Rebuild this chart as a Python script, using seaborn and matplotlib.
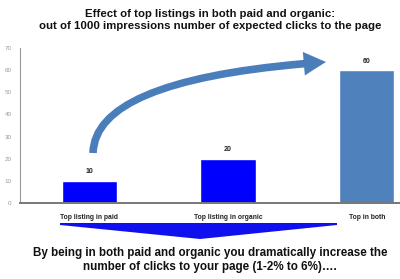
import matplotlib
matplotlib.use("Agg")
import matplotlib.pyplot as plt
import seaborn as sns
import numpy as np
from matplotlib.patches import FancyArrowPatch, Polygon
from matplotlib.path import Path

categories = ["Top listing in paid", "Top listing in organic", "Top in both"]
values = [10, 20, 60]
bar_colors = ["#0000ff", "#0000ff", "#4f81bd"]
yticks = [0, 10, 20, 30, 40, 50, 60, 70]
title_lines = ["Effect of top listings in both paid and organic:",
               "out of 1000 impressions number of expected clicks to the page"]
footer_lines = ["By being in both paid and organic you dramatically increase the",
                "number of clicks to your page (1-2% to 6%)\u2026."]

sns.set_theme(style="white")
plt.rcParams['font.family'] = ['Liberation Sans', 'DejaVu Sans']

W, H = 400, 279
fig = plt.figure(figsize=(4.0, 2.79), dpi=100)
ax = fig.add_axes([0.05, 0.272, 0.95, 0.556])

sns.barplot(x=categories, y=values, hue=categories, palette=bar_colors,
            legend=False, width=0.4, ax=ax, saturation=1)
ax.set_xlim(-0.5, 2.24)
ax.set_ylim(0, 70)
ax.set_yticks(yticks)
ax.set_yticklabels([str(t) for t in yticks], fontsize=4.5, color="#999999")
ax.set_xticks(range(len(categories)))
ax.set_xticklabels(categories, fontsize=4.9, fontweight="bold", color="#222222")
ax.tick_params(axis="both", length=0, pad=8)
ax.tick_params(axis="y", pad=6)
ax.set_xlabel("")
ax.set_ylabel("")
for s in ["top", "right"]:
    ax.spines[s].set_visible(False)
ax.spines["left"].set_color("#999999")
ax.spines["left"].set_linewidth(0.8)
ax.spines["bottom"].set_color("#777777")
ax.spines["bottom"].set_linewidth(1.4)

for i, v in enumerate(values):
    ax.text(i, v + 2.5, str(v), ha="center", va="bottom", fontsize=5,
            fontweight="bold", color="#222222")

# curved arrow (quadratic bezier in figure fraction)
def fp(x, y):
    return (x / W, 1 - y / H)

arrow_path = Path([fp(93, 153), fp(95, 78), fp(326, 62)],
                  [Path.MOVETO, Path.CURVE3, Path.CURVE3])
arrow = FancyArrowPatch(path=arrow_path, transform=fig.transFigure,
                        arrowstyle="simple,head_width=1.7,head_length=1.6,tail_width=0.55",
                        color="#4a7ebb", lw=0, mutation_scale=10)
fig.patches.append(arrow)

# downward triangle banner
pts = [fp(60, 223), fp(337, 223), fp(337, 225), fp(200, 239), fp(60, 225)]
tri = Polygon(pts, closed=True, transform=fig.transFigure, color="#1010ee", lw=0)
fig.patches.append(tri)

fig.text(0.525, 1 - 14 / H, title_lines[0], ha="center", va="center",
         fontsize=8.2, fontweight="bold", color="#111111")
fig.text(0.525, 1 - 26 / H, title_lines[1], ha="center", va="center",
         fontsize=8.2, fontweight="bold", color="#111111")
fig.text(0.525, 1 - 253 / H, footer_lines[0], ha="center", va="center",
         fontsize=8.4, fontweight="bold", color="#111111")
fig.text(0.525, 1 - 267 / H, footer_lines[1], ha="center", va="center",
         fontsize=8.4, fontweight="bold", color="#111111")

fig.savefig("out.png", dpi=100, facecolor="white")
